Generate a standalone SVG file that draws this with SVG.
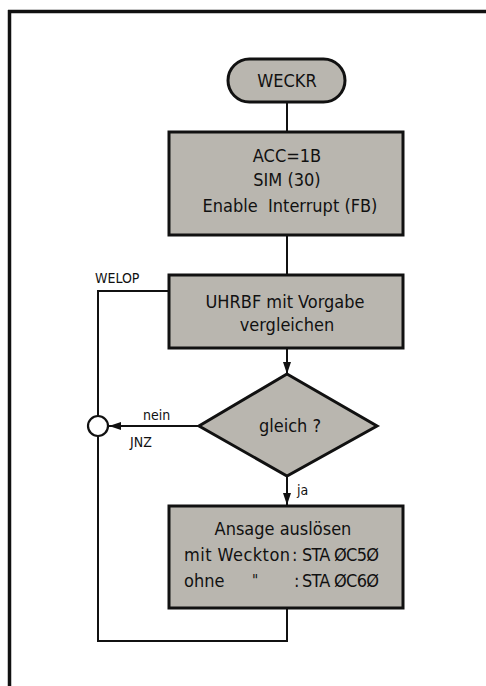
<svg xmlns="http://www.w3.org/2000/svg" width="486" height="686" viewBox="0 0 486 686">
<defs>
<style>
.node{fill:#b9b6af;stroke:#111;stroke-width:3}
.t{font-family:"DejaVu Sans Condensed","DejaVu Sans",sans-serif;font-size:18px;fill:#111;text-anchor:middle}
.s{text-anchor:start}
.l{font-family:"DejaVu Sans Condensed","DejaVu Sans",sans-serif;font-size:14px;fill:#111}
.c{fill:none;stroke:#111;stroke-width:2}
</style>
<marker id="ah" viewBox="0 0 12 8" refX="12" refY="4" markerWidth="12" markerHeight="8" markerUnits="userSpaceOnUse" orient="auto">
<path d="M0,0 L12,4 L0,8 Z" fill="#111"/>
</marker>
</defs>
<rect x="0" y="0" width="486" height="686" fill="#fff"/>
<g id="frame">
<line x1="8" y1="11.5" x2="486" y2="11.5" stroke="#111" stroke-width="3.5"/>
<line x1="9.5" y1="10" x2="9.5" y2="686" stroke="#111" stroke-width="3.5"/>
</g>
<g id="connectors">
<line class="c" x1="287" y1="102" x2="287" y2="132"/>
<line class="c" x1="287" y1="235" x2="287" y2="274"/>
<line class="c" x1="287" y1="348" x2="287" y2="374" marker-end="url(#ah)"/>
<line class="c" x1="200" y1="426" x2="109" y2="426" marker-end="url(#ah)"/>
<line class="c" x1="287" y1="476" x2="287" y2="505" marker-end="url(#ah)"/>
<polyline class="c" points="169,291 98,291 98,416"/>
<polyline class="c" points="98,436 98,641 287,641 287,608"/>
<circle id="junction" cx="98" cy="426" r="10" fill="#fff" stroke="#111" stroke-width="2.2"/>
<text class="l" x="95" y="283">WELOP</text>
<text class="l" x="143" y="420">nein</text>
<text class="l" x="130" y="447">JNZ</text>
<text class="l" x="297" y="495">ja</text>
</g>
<g id="start">
<rect class="node" x="228" y="59" width="117" height="43" rx="21.5" ry="21.5"/>
<text class="t" x="287" y="87">WECKR</text>
</g>
<g id="init">
<rect class="node" x="169" y="132" width="234" height="103"/>
<text class="t" x="287" y="162">ACC=1B</text>
<text class="t" x="287" y="186">SIM (30)</text>
<text class="t" x="290" y="212">Enable&#160; Interrupt (FB)</text>
</g>
<g id="compare">
<rect class="node" x="169" y="275" width="234" height="73"/>
<text class="t" x="285" y="308">UHRBF mit Vorgabe</text>
<text class="t" x="287" y="331">vergleichen</text>
</g>
<g id="decision">
<polygon class="node" points="287,374 377,426 287,476 199,426"/>
<text class="t" x="290" y="432">gleich ?</text>
</g>
<g id="announce">
<rect class="node" x="169" y="506" width="234" height="102"/>
<text class="t" x="283" y="535">Ansage auslösen</text>
<text class="t s" x="184" y="561" textLength="106">mit Weckton</text>
<text class="t s" x="292" y="561">:</text>
<text class="t s" x="302" y="561" textLength="77">STA ØC5Ø</text>
<text class="t s" x="184" y="587">ohne</text>
<text class="t s" x="252" y="586" style="font-size:15px">"</text>
<text class="t s" x="294" y="587">:</text>
<text class="t s" x="302" y="587" textLength="77">STA ØC6Ø</text>
</g>
</svg>
